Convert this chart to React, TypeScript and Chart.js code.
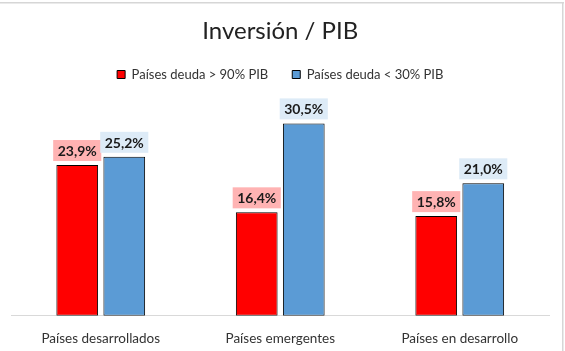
import React, { useEffect, useRef } from "react";
import { Chart, registerables } from "chart.js";

Chart.register(...registerables);

const categories = ["Países desarrollados", "Países emergentes", "Países en desarrollo"];
const seriesNames = ["Países deuda > 90% PIB", "Países deuda < 30% PIB"];
const highDebtValues = [23.9, 16.4, 15.8];
const lowDebtValues = [25.2, 30.5, 21.0];
const chartTitle = "Inversión / PIB";
const yMin = 0;
const yMax = 35;

const FONT = "Lato";
const barColors = ["#FF0000", "#5B9BD5"];
const labelBg = ["#FFB3B3", "#DDEBF7"];

const frameAndLabels = {
  id: "frameAndLabels",
  beforeDraw(chart: any) {
    const ctx = chart.ctx;
    ctx.save();
    ctx.fillStyle = "#ffffff";
    ctx.fillRect(0, 0, chart.width, chart.height);
    ctx.fillStyle = "#d6d6d6";
    ctx.fillRect(0, 2, 564, 1.5);
    ctx.fillRect(562, 2, 1.5, chart.height);
    ctx.restore();
  },
  afterDatasetsDraw(chart: any) {
    const ctx = chart.ctx;
    ctx.save();
    ctx.font = `bold 14px ${FONT}`;
    ctx.textAlign = "center";
    ctx.textBaseline = "middle";
    chart.data.datasets.forEach((ds: any, di: number) => {
      const meta = chart.getDatasetMeta(di);
      meta.data.forEach((el: any, i: number) => {
        const v = ds.data[i] as number;
        const text = v.toFixed(1).replace(".", ",") + "%";
        const w = ctx.measureText(text).width + 9;
        const h = 21;
        const bx = el.x - w / 2;
        const by = el.y - 4 - h;
        ctx.fillStyle = labelBg[di];
        ctx.fillRect(bx, by, w, h);
        ctx.fillStyle = "#1a1a1a";
        ctx.fillText(text, el.x, by + h / 2 + 1);
      });
    });
    ctx.restore();
  },
};

export default function App() {
  const ref = useRef<HTMLCanvasElement | null>(null);
  useEffect(() => {
    if (!ref.current) return;
    const chart = new Chart(ref.current, {
      type: "bar",
      data: {
        labels: categories,
        datasets: [
          {
            label: seriesNames[0],
            data: highDebtValues,
            backgroundColor: barColors[0],
            borderColor: "#000000",
            borderWidth: 1,
            borderSkipped: false,
            categoryPercentage: 0.524,
            barPercentage: 0.887,
          },
          {
            label: seriesNames[1],
            data: lowDebtValues,
            backgroundColor: barColors[1],
            borderColor: "#000000",
            borderWidth: 1,
            borderSkipped: false,
            categoryPercentage: 0.524,
            barPercentage: 0.887,
          },
        ],
      },
      options: {
        animation: false,
        responsive: false,
        maintainAspectRatio: false,
        layout: { padding: { left: 11, right: 15.5, top: 0, bottom: -10 } },
        plugins: {
          title: {
            display: true,
            text: chartTitle,
            color: "#222222",
            font: { family: FONT, size: 24, weight: "normal", lineHeight: 1 },
            padding: { top: 19, bottom: 1 },
          },
          legend: {
            display: true,
            position: "top",
            labels: {
              boxWidth: 8,
              boxHeight: 8,
              padding: 24,
              color: "#333333",
              font: { family: FONT, size: 13 },
            },
          },
          tooltip: { enabled: false },
        },
        scales: {
          x: {
            grid: { display: false, drawTicks: false, tickLength: 0 },
            border: { display: true, color: "#d9d9d9", width: 1 },
            ticks: {
              color: "#333333",
              padding: 14.5,
              font: { family: FONT, size: 13.5 },
            },
          },
          xTop: {
            type: "category",
            position: "top",
            labels: categories,
            grid: { display: false, drawTicks: true, tickLength: 4 },
            border: { display: false },
            ticks: { display: false },
          },
          y: {
            display: false,
            min: yMin,
            max: yMax,
          },
        },
      },
      plugins: [frameAndLabels],
    });
    return () => chart.destroy();
  }, []);
  return (
    <div style={{ position: "fixed", left: 0, top: 0, width: 565, height: 351, background: "#fff" }}>
      <canvas ref={ref} width={565} height={351} style={{ display: "block", width: 565, height: 351 }} />
    </div>
  );
}
